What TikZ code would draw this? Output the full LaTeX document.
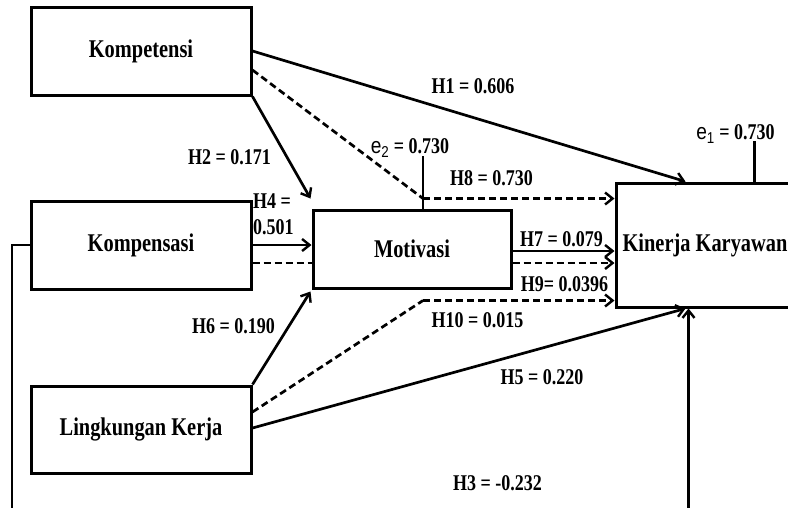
\documentclass[tikz,border=0pt]{standalone}
\usepackage{fontspec}
\setmainfont{Liberation Serif}
\newfontfamily\boxfont[FakeStretch=0.8]{Liberation Serif}
\newfontfamily\efont[FakeStretch=0.85]{Liberation Sans}
\usetikzlibrary{arrows.meta,calc}
\newcommand{\evar}[1]{{\efont\mdseries e\textsubscript{#1}}}
\begin{document}
\begin{tikzpicture}[x=1pt,y=-1pt,
  box/.style={draw, line width=3pt, inner sep=0pt,
    font=\boxfont\bfseries\fontsize{25.5}{28}\selectfont},
  lbl/.style={font=\boxfont\bfseries\fontsize{22.5}{26}\selectfont, inner sep=0pt},
  tip/.style={-{Straight Barb[length=7.5pt,width=12pt,line width=2.4pt]}},
  arr/.style={line width=2.7pt, tip},
  dsh/.style={line width=2.7pt, dash pattern=on 7pt off 4pt},
]
\useasboundingbox (0,0) rectangle (788,507);
% boxes
\node[box, minimum width=220pt, minimum height=88pt] (kt) at (141,51) {Kompetensi};
\node[box, minimum width=220pt, minimum height=88pt] (ks) at (141,245) {Kompensasi};
\node[box, minimum width=220pt, minimum height=87pt] (lk) at (141,429.5) {Lingkungan Kerja};
\node[box, minimum width=198pt, minimum height=78pt] (mv) at (412,249) {Motivasi};
\node[box, minimum width=178pt, minimum height=124pt] (kk) at (705,245) {Kinerja Karyawan};
% helper coordinates
\coordinate (e2foot) at ([xshift=11pt]mv.north);
\coordinate (e2top) at ([yshift=53pt]e2foot);
\coordinate (c8) at ([yshift=10pt]e2foot);
\coordinate (c10) at ([xshift=11pt,yshift=-11pt]mv.south);
\coordinate (e1foot) at ([xshift=140pt]kk.north west);
\coordinate (e1top) at ([yshift=41pt]e1foot);
\coordinate (h3corner) at (12,515);
% connectors
\draw[arr] (kt.east) -- ([xshift=71pt]kk.north west);
\draw[arr] (kt.south east) -- ([xshift=-1pt,yshift=10pt]mv.north west);
\draw[dsh] ([yshift=-19pt]kt.east) -- (c8);
\draw[dsh, tip] (c8) -- (c8 -| kk.west);
\draw[line width=2.7pt] (e2foot) -- (e2top);
\draw[arr] (ks.east) -- (ks.east -| mv.west);
\draw[dsh] ([yshift=-18pt]ks.east) -- ([yshift=-18pt]ks.east -| mv.west);
\draw[arr] ([yshift=-2pt]mv.east) -- ([yshift=-2pt]mv.east -| kk.west);
\draw[dsh, tip] ([yshift=-14pt]mv.east) -- ([yshift=-14pt]mv.east -| kk.west);
\draw[dsh] ([yshift=17.5pt]lk.east) -- (c10);
\draw[dsh, tip] (c10) -- (c10 -| kk.west);
\draw[arr] (lk.north east) -- ([xshift=-1pt,yshift=-2pt]mv.south west);
\draw[arr] ([yshift=1.5pt]lk.east) -- ([xshift=71pt]kk.south west);
\draw[line width=2.3pt, tip] (ks.west) -| (h3corner) -| ([xshift=74pt]kk.south west);
\draw[line width=2.7pt] (e1foot) -- (e1top);
% labels
\node[lbl] (l1) at (473,86) {H1 = 0.606};
\node[lbl] (l2) at (229.5,157) {H2 = 0.171};
\node[lbl, anchor=north west, align=left] (l4) at (253,193) {H4 =\\0.501};
\node[lbl] (le2) at (410,148) {\evar{2} = 0.730};
\node[lbl] (l8) at (491.5,178) {H8 = 0.730};
\node[lbl] (l7) at (561.5,239) {H7 = 0.079};
\node[lbl] (l9) at (564.5,284) {H9= 0.0396};
\node[lbl] (l10) at (477.5,320) {H10 = 0.015};
\node[lbl] (l6) at (233.5,326) {H6 = 0.190};
\node[lbl] (l5) at (542,377) {H5 = 0.220};
\node[lbl] (l3) at (497.5,483) {H3 = -0.232};
\node[lbl] (le1) at (735.5,134) {\evar{1} = 0.730};
\end{tikzpicture}
\end{document}
